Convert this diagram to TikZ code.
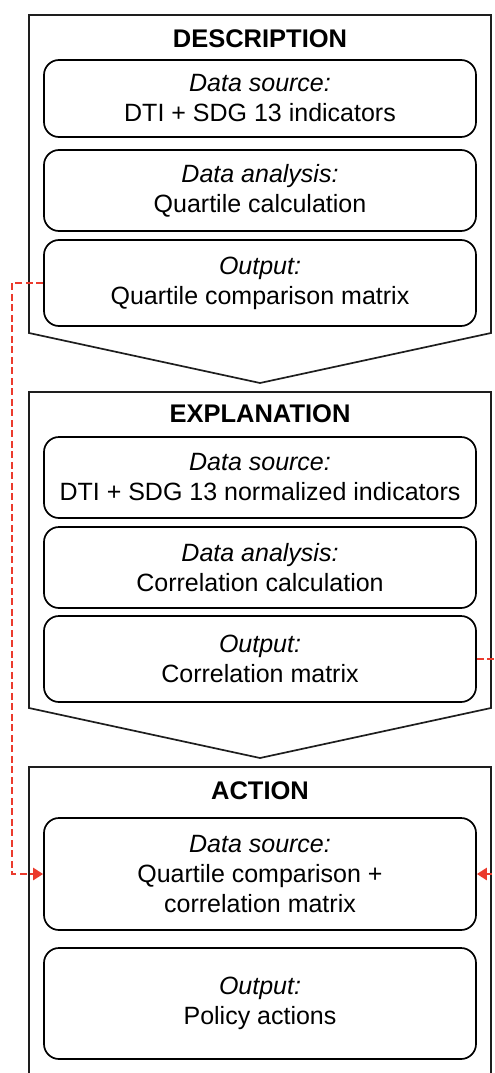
\documentclass[tikz,border=0pt]{standalone}
\usepackage{fontspec}
\setmainfont{Liberation Sans}
\usetikzlibrary{arrows.meta}

\definecolor{linkred}{HTML}{EB3B2D}
\definecolor{framegray}{HTML}{1E1E1E}

\tikzset{
  stage/.style={draw=framegray, line width=1.7pt, line join=miter},
  title/.style={anchor=base, font=\bfseries\fontsize{25.5}{29}\selectfont},
  panel/.style={draw=black, line width=1.7pt, rounded corners=15pt,
    minimum width=432pt, align=center, inner sep=0pt,
    font=\fontsize{25}{30}\selectfont},
  link/.style={draw=linkred, line width=2.6pt, dash pattern=on 7pt off 3.5pt,
    -{Triangle[length=10pt,width=12pt]}},
}

\begin{document}
\begin{tikzpicture}[x=1pt, y=-1pt]
  \useasboundingbox (0,0) rectangle (495,1073);
  \clip (0,0) rectangle (495,1073);

  % stage frames: two chevron-ended panels and an open-ended bottom panel
  \draw[stage] (29,15) -- (491,15) -- (491,333) -- (260,383) -- (29,333) -- cycle;
  \draw[stage] (29,392) -- (491,392) -- (491,708) -- (260,758) -- (29,708) -- cycle;
  \draw[stage] (29,1090) -- (29,767) -- (491,767) -- (491,1090);

  % stage titles
  \node[title] (tdesc) at (260,48) {DESCRIPTION};
  \node[title] (texpl) at (260,422) {EXPLANATION};
  \node[title] (tact)  at (260,799) {ACTION};

  % description panels
  \node[panel, minimum height=77pt] (d1) at (260,98.5)
    {\textit{Data source:}\\DTI + SDG 13 indicators};
  \node[panel, minimum height=81pt] (d2) at (260,190.5)
    {\textit{Data analysis:}\\Quartile calculation};
  \node[panel, minimum height=86pt] (d3) at (260,283)
    {\textit{Output:}\\Quartile comparison matrix};

  % explanation panels
  \node[panel, minimum height=81pt] (e1) at (260,477.5)
    {\textit{Data source:}\\DTI + SDG 13 normalized indicators};
  \node[panel, minimum height=81pt] (e2) at (260,567.5)
    {\textit{Data analysis:}\\Correlation calculation};
  \node[panel, minimum height=86pt] (e3) at (260,659)
    {\textit{Output:}\\Correlation matrix};

  % action panels
  \node[panel, minimum height=112pt] (a1) at (260,874)
    {\textit{Data source:}\\Quartile comparison +\\correlation matrix};
  \node[panel, minimum height=111pt] (a2) at (260,1003.5)
    {\textit{Output:}\\Policy actions};

  % feedback links into the action stage
  \coordinate (lt) at (12,0);
  \coordinate (rt) at (508,0);
  \draw[link] (d3.west) -| (lt |- a1.west) -- (a1.west);
  \draw[link] (e3.east) -| (rt |- a1.east) -- (a1.east);
\end{tikzpicture}
\end{document}
